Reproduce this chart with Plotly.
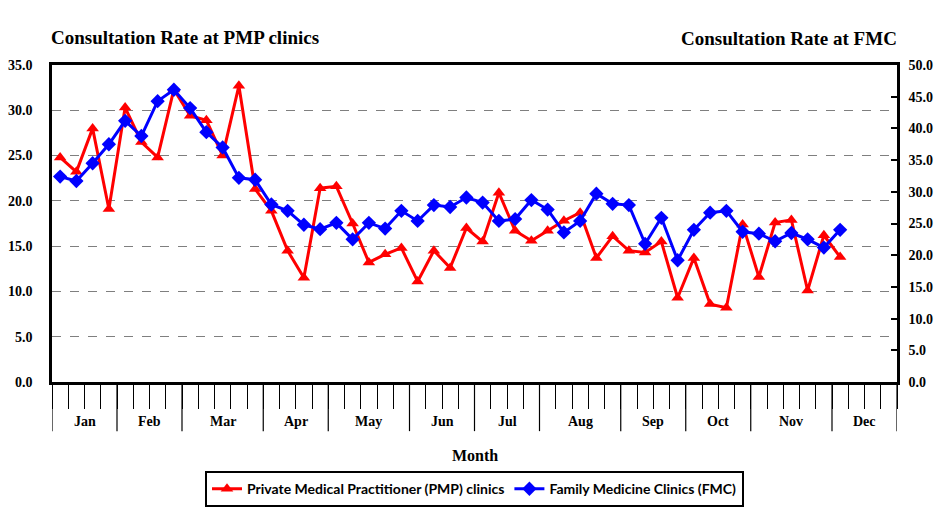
import plotly.graph_objects as go

weeks = list(range(1, 50))
pmp = [24.8, 23.2, 28.0, 19.1, 30.3, 26.5, 24.8, 32.3, 29.4, 28.9,
       25.0, 32.7, 21.3, 18.9, 14.5, 11.5, 21.4, 21.6, 17.5, 13.2,
       14.1, 14.8, 11.1, 14.5, 12.6, 17.0, 15.5, 20.9, 16.7, 15.6,
       16.7, 17.8, 18.7, 13.7, 16.1, 14.5, 14.3, 15.5, 9.3, 13.7,
       8.6, 8.2, 17.4, 11.6, 17.6, 17.9, 10.1, 16.2, 13.8]
fmc = [32.4, 31.7, 34.5, 37.5, 41.2, 38.8, 44.3, 46.1, 43.2, 39.4,
       37.0, 32.2, 31.9, 28.0, 27.0, 24.8, 24.1, 25.1, 22.5, 25.1,
       24.2, 27.0, 25.4, 27.9, 27.6, 29.1, 28.3, 25.4, 25.7, 28.7,
       27.2, 23.6, 25.4, 29.7, 28.1, 27.9, 21.8, 25.9, 19.2, 24.0,
       26.7, 27.0, 23.7, 23.4, 22.2, 23.5, 22.5, 21.2, 24.0]
months = ["Jan", "Feb", "Mar", "Apr", "May", "Jun", "Jul", "Aug", "Sep", "Oct", "Nov", "Dec"]
weeks_per_month = [4, 4, 5, 4, 5, 4, 4, 5, 4, 4, 5, 4]

serif = "Liberation Serif"
n_weeks = sum(weeks_per_month)

fig = go.Figure()
fig.add_trace(go.Scatter(
    x=weeks, y=pmp, name="Private Medical Practitioner (PMP) clinics",
    mode="lines+markers", line=dict(color="#ff0000", width=3),
    marker=dict(symbol="triangle-up", size=11, color="#ff0000"), yaxis="y"))
fig.add_trace(go.Scatter(
    x=weeks, y=fmc, name="Family Medicine Clinics (FMC)",
    mode="lines+markers", line=dict(color="#0000ff", width=3),
    marker=dict(symbol="diamond", size=11, color="#0000ff"), yaxis="y2"))

# month boundaries and labels
shapes = []
annotations = []
start = 0.5
for m, n in zip(months, weeks_per_month):
    shapes.append(dict(type="line", xref="x", yref="paper", x0=start, x1=start,
                       y0=0, y1=-0.155, line=dict(color="black", width=1.2)))
    annotations.append(dict(x=start + n / 2, y=-0.126, xref="x", yref="paper",
                            text="<b>" + m + "</b>", showarrow=False, yanchor="middle",
                            font=dict(family=serif, size=14, color="black")))
    start += n
shapes.append(dict(type="line", xref="x", yref="paper", x0=start, x1=start,
                   y0=0, y1=-0.155, line=dict(color="black", width=1.2)))

annotations += [
    dict(x=-0.004, y=1.088, xref="paper", yref="paper", text="<b>Consultation Rate at PMP clinics</b>",
         showarrow=False, xanchor="left", yanchor="middle",
         font=dict(family=serif, size=19, color="black")),
    dict(x=1.002, y=1.085, xref="paper", yref="paper", text="<b>Consultation Rate at FMC</b>",
         showarrow=False, xanchor="right", yanchor="middle",
         font=dict(family=serif, size=19, color="black")),
    dict(x=0.5, y=-0.233, xref="paper", yref="paper", text="<b>Month</b>",
         showarrow=False, xanchor="center", yanchor="middle",
         font=dict(family=serif, size=16, color="black")),
]

fig.update_layout(
    width=948, height=514,
    margin=dict(l=44, r=59, t=57, b=140, autoexpand=False),
    paper_bgcolor="white", plot_bgcolor="white",
    showlegend=True,
    legend=dict(orientation="h", x=0.5, xanchor="center", y=-0.338, yanchor="middle",
                bordercolor="black", borderwidth=2, bgcolor="white",
                font=dict(family="Lato", size=14, color="black", weight="bold"),
                itemwidth=30, tracegroupgap=0),
    xaxis=dict(range=[0.5, n_weeks + 0.5], tickmode="array",
               tickvals=[i + 0.5 for i in range(n_weeks + 1)], automargin=False,
               showticklabels=False, ticks="outside", ticklen=24, tickwidth=1.2,
               tickcolor="black", showgrid=False, zeroline=False,
               showline=True, linecolor="black", linewidth=2.5, mirror=True),
    yaxis=dict(range=[0, 35], dtick=5, tick0=0, tickformat=".1f", automargin=False,
               showgrid=True, gridcolor="#7f7f7f", griddash="dash", gridwidth=1,
               showline=True, linecolor="black", linewidth=2.5, zeroline=False,
               ticks="", ticklabelstandoff=14,
               tickfont=dict(family=serif, size=14, color="black", weight="bold")),
    yaxis2=dict(range=[0, 50], dtick=5, tick0=0, tickformat=".1f", overlaying="y",
                side="right", showgrid=False, zeroline=False, automargin=False,
                showline=True, linecolor="black", linewidth=2.5,
                ticks="inside", ticklen=6, tickwidth=2, tickcolor="black",
                ticklabelstandoff=6,
                tickfont=dict(family=serif, size=14, color="black", weight="bold")),
    shapes=shapes, annotations=annotations,
)

fig.write_html("out.html")
